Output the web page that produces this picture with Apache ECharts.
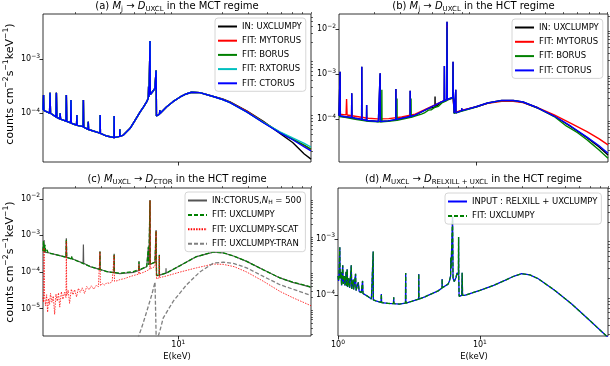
<!DOCTYPE html>
<html>
<head>
<meta charset="utf-8">
<script src="https://cdn.jsdelivr.net/npm/echarts@6/dist/echarts.min.js"></script>
<style>
html, body { margin: 0; padding: 0; background: #fff; }
#main { width: 610px; height: 366px; }
</style>
</head>
<body>
<div id="main"></div>
<script>
var FONT = 'DejaVu Sans';

// ---- panel (a): MCT regime, fits of UXCLUMPY ----
var aLow = [
  [1.2,1.15e-4],[1.205,1.14e-4],[1.21,2.15e-4],[1.215,1.12e-4],
  [1.33,1.0e-4],[1.34,2.38e-4],[1.35,9.9e-5],
  [1.47,8.5e-5],[1.48,2.38e-4],[1.49,8.3e-5],
  [1.56,7.8e-5],[1.57,9.9e-5],[1.58,7.7e-5],
  [1.72,7.1e-5],[1.73,2.15e-4],[1.74,7.0e-5],
  [1.85,6.6e-5],[1.86,1.74e-4],[1.87,6.5e-5],[1.93,6.25e-5],
  [2.03,6.0e-5],[2.04,9.2e-5],[2.05,5.9e-5],
  [2.25,5.6e-5],[2.26,1.74e-4],[2.27,5.5e-5],
  [2.43,5.0e-5],[2.44,6.9e-5],[2.45,4.95e-5],[2.51,4.85e-5],
  [2.93,4.25e-5],[2.94,9.2e-5],[2.95,4.2e-5],[3.26,3.75e-5],
  [3.65,3.5e-5],[3.66,8.8e-5],[3.67,3.5e-5],
  [3.99,3.7e-5],[4.0,5.0e-5],[4.01,3.7e-5],
  [4.23,3.9e-5],[4.7,5.2e-5],[5.1,7.5e-5],[5.5,1.05e-4],[5.8,1.3e-4],[6.1,1.62e-4],
  [6.25,1.9e-4],[6.28,3.1e-4],[6.32,2.0e-4],
  [6.39,2.1e-4],[6.42,2.15e-3],[6.45,2.2e-4],
  [6.7,2.5e-4],[6.93,2.86e-4],[7.04,2.95e-4],[7.06,6.1e-4],[7.08,3.0e-4],[7.1,8.8e-5],
  [7.45,9.5e-5],[7.48,1.14e-4],[7.51,9.8e-5],
  [8.34,1.31e-4],[9.2,1.62e-4],[10.3,1.98e-4],[11.3,2.25e-4],[12.3,2.42e-4],[14,2.38e-4],[17.3,2.02e-4]
];
var aTailIn = [[20,1.82e-4],[22.5,1.6e-4],[29.2,1.1e-4],[37.9,7.0e-5],[49.2,4.2e-5],[60,2.85e-5],[72,1.74e-5],[80,1.4e-5]];
var aTailMy = [[20,1.8e-4],[22.5,1.58e-4],[29.2,1.08e-4],[37.9,6.8e-5],[49.2,4.4e-5],[60,3.3e-5],[72,2.5e-5],[80,2.1e-5]];
var aTailBo = [[20,1.78e-4],[22.5,1.55e-4],[29.2,1.05e-4],[37.9,6.7e-5],[49.2,4.4e-5],[60,3.3e-5],[72,2.55e-5],[80,2.15e-5]];
var aTailRx = [[20,1.78e-4],[22.5,1.55e-4],[29.2,1.05e-4],[37.9,6.7e-5],[49.2,4.5e-5],[60,3.45e-5],[72,2.75e-5],[80,2.35e-5]];
var aTailCt = [[20,1.78e-4],[22.5,1.55e-4],[29.2,1.05e-4],[37.9,6.6e-5],[49.2,4.3e-5],[60,3.2e-5],[72,2.37e-5],[80,2.0e-5]];

// ---- panel (b): HCT regime, fits of UXCLUMPY ----
var bLow = [
  [1.135,1.2e-4],[1.15,1.18e-4],[1.155,1.14e-3],[1.16,1.18e-4],[1.25,1.14e-4],
  [1.385,1.09e-4],[1.39,3.8e-4],[1.395,1.09e-4],[1.47,1.05e-4],
  [1.625,9.9e-5],[1.63,1.47e-3],[1.635,9.9e-5],
  [1.755,9.4e-5],[1.76,2.08e-4],[1.765,9.4e-5],[1.81,9.2e-5],[2.12,8.9e-5],
  [2.175,8.9e-5],[2.18,1.05e-3],[2.185,8.9e-5],[2.48,9.2e-5],
  [2.795,9.8e-5],[2.8,4.7e-4],[2.805,9.8e-5],[3.07,1.05e-4],
  [3.505,1.15e-4],[3.51,4.3e-4],[3.515,1.15e-4],
  [3.79,1.24e-4],[4.69,1.75e-4],[5.8,2.46e-4],
  [6.02,2.55e-4],[6.04,1.53e-3],[6.07,2.6e-4],
  [6.27,2.7e-4],[6.3,0.0148],[6.33,2.75e-4],
  [6.9,3.05e-4],[6.93,1.9e-3],[6.96,3.08e-4],[7.02,3.1e-4],[7.06,1.36e-4],
  [7.22,1.38e-4],[7.24,4.5e-4],[7.26,1.39e-4],
  [7.94,1.55e-4],[7.96,1.75e-4],[7.98,1.55e-4],
  [10,1.9e-4],[12,2.3e-4],[15,2.62e-4],[18,2.62e-4]
];
var bInExtra = [[5.2,1.85e-4],[5.21,3.2e-4],[5.22,1.86e-4]];
var bLowMy = [
  [1.135,1.3e-4],[1.27,1.25e-4],[1.28,2.8e-4],[1.29,1.24e-4],[1.5,1.15e-4],[1.8,1.05e-4],
  [2.1,1.02e-4],[2.5,1.03e-4],[3.07,1.12e-4],[3.8,1.3e-4],[4.7,1.78e-4],[5.8,2.45e-4],
  [6.29,2.7e-4],[6.3,0.012],[6.31,2.7e-4],[6.92,3.0e-4],[6.93,1.5e-3],[6.94,3.0e-4],
  [7.02,3.05e-4],[7.06,1.4e-4],[8,1.6e-4],[10,1.88e-4],[12,2.25e-4],[15,2.5e-4],[18,2.5e-4]
];
var bLowBo = [
  [1.135,1.15e-4],[1.25,1.1e-4],[1.47,1.0e-4],[1.81,9.0e-5],[2.12,8.8e-5],
  [2.235,8.8e-5],[2.24,4.5e-4],[2.245,8.8e-5],[2.48,9.0e-5],
  [2.845,9.5e-5],[2.85,2.9e-4],[2.855,9.5e-5],[3.07,1.0e-4],
  [3.55,1.1e-4],[3.56,2.9e-4],[3.57,1.1e-4],[3.79,1.18e-4],[4.2,1.3e-4],[4.4,1.38e-4],
  [4.5,1.5e-4],[4.69,1.6e-4],[4.9,1.62e-4],[5.2,1.85e-4],[5.5,1.95e-4],[5.8,2.3e-4],
  [6.28,2.6e-4],[6.3,0.011],[6.32,2.65e-4],[6.9,2.95e-4],[6.93,1.5e-3],[6.96,3.0e-4],
  [7.02,3.0e-4],[7.06,1.35e-4],[8,1.52e-4],[10,1.87e-4],[12,2.28e-4],[15,2.6e-4],[18,2.6e-4]
];
var bTailIn = [[21,2.42e-4],[26.5,1.8e-4],[34.5,1.18e-4],[45,6.8e-5],[58,3.9e-5],[70,2.45e-5],[81,1.6e-5]];
var bTailCt = [[21,2.42e-4],[26.5,1.8e-4],[34.5,1.18e-4],[45,7.0e-5],[58,4.0e-5],[70,2.6e-5],[81,1.75e-5]];
var bTailMy = [[21,2.35e-4],[26.5,1.8e-4],[34.5,1.25e-4],[45,8.1e-5],[58,5.3e-5],[70,3.7e-5],[81,2.7e-5]];
var bTailBo = [[21,2.4e-4],[26.5,1.78e-4],[34.5,1.15e-4],[42,7.0e-5],[45,6.2e-5],[50,5.0e-5],[58,3.5e-5],
  [63,2.8e-5],[70,2.1e-5],[75,1.7e-5],[81,1.36e-5]];

// ---- panel (c): CTORUS input fitted with UXCLUMPY ----
var cIn = [
  [1.2,3.7e-4],[1.21,3.6e-4],[1.22,7.5e-4],[1.23,3.5e-4],[1.33,3.3e-4],[1.34,3.7e-4],[1.35,3.2e-4],
  [1.49,2.95e-4],[1.72,2.55e-4],[1.73,8.4e-4],[1.74,2.5e-4],[1.87,2.3e-4],[1.88,2.65e-4],[1.89,2.3e-4],
  [1.93,2.15e-4],[2.25,1.75e-4],[2.26,5.6e-4],[2.27,1.74e-4],[2.51,1.41e-4],
  [2.92,1.18e-4],[2.93,3.7e-4],[2.94,1.17e-4],[3.26,1.03e-4],[3.65,9.6e-5],[3.66,3.15e-4],[3.67,9.6e-5],
  [4.0,9.0e-5],[4.94,9.8e-5],[5.39,1.1e-4],[5.4,2.0e-4],[5.41,1.1e-4],[6.1,1.41e-4],
  [6.24,1.5e-4],[6.26,5e-4],[6.3,1.55e-4],[6.4,1.6e-4],[6.42,9.3e-3],[6.44,1.62e-4],
  [6.94,1.86e-4],[7.04,1.9e-4],[7.06,1.4e-3],[7.09,1.9e-4],[7.11,8e-5],
  [7.42,8.2e-5],[7.43,2.95e-4],[7.44,8.2e-5],[8.24,9.3e-5],[8.25,1.27e-4],[8.26,9.3e-5],
  [10.3,1.5e-4],[13.3,2.64e-4],[17.3,3.5e-4],[20.2,3.35e-4],[24,2.7e-4],[29.2,1.95e-4],
  [37.9,1.15e-4],[49.2,6.9e-5],[60,5.2e-5],[72,4.3e-5],[80,3.8e-5]
];
var cFit = [
  [1.2,3.8e-4],[1.21,7.0e-4],[1.22,3.6e-4],[1.24,5.5e-4],[1.25,3.5e-4],[1.28,4.0e-4],[1.3,3.3e-4],
  [1.34,3.7e-4],[1.36,3.2e-4],[1.49,2.95e-4],[1.72,2.55e-4],[1.73,8.0e-4],[1.74,2.5e-4],
  [1.87,2.3e-4],[1.88,2.65e-4],[1.89,2.3e-4],[1.93,2.15e-4],[2.51,1.41e-4],
  [2.92,1.18e-4],[2.93,3.6e-4],[2.94,1.17e-4],[3.26,1.03e-4],[3.65,9.6e-5],[3.66,3.1e-4],[3.67,9.6e-5],
  [4.0,9.3e-5],[4.94,1.03e-4],[5.39,1.15e-4],[5.4,1.9e-4],[5.41,1.15e-4],[6.1,1.41e-4],
  [6.24,1.5e-4],[6.26,4.8e-4],[6.3,1.55e-4],[6.4,1.6e-4],[6.42,9.0e-3],[6.44,1.62e-4],
  [6.94,1.86e-4],[7.04,1.9e-4],[7.06,1.35e-3],[7.09,1.9e-4],[7.11,8e-5],
  [7.42,8.2e-5],[7.43,2.9e-4],[7.44,8.2e-5],[8.25,9.3e-5],[10.3,1.5e-4],[13.3,2.64e-4],
  [17.3,3.5e-4],[20.2,3.35e-4],[24,2.7e-4],[29.2,1.95e-4],[37.9,1.15e-4],[49.2,6.9e-5],
  [60,5.3e-5],[72,4.4e-5],[80,3.9e-5]
];
var cScat = [
  [1.2,2.0e-5],[1.21,1.5e-5],[1.22,4.5e-4],[1.23,2.2e-5],[1.25,1.2e-5],[1.27,2.4e-5],[1.29,8e-6],
  [1.31,1.9e-5],[1.33,1.3e-5],[1.35,2.6e-5],[1.38,1.5e-5],[1.41,2.2e-5],[1.44,7e-6],[1.47,2.5e-5],
  [1.5,1.6e-5],[1.53,2.7e-5],[1.56,1.1e-5],[1.6,2.9e-5],[1.64,1.8e-5],[1.68,2.8e-5],[1.72,2.0e-5],
  [1.73,7.0e-4],[1.74,2.3e-5],[1.78,3.2e-5],[1.82,1.4e-5],[1.87,3.4e-5],[1.92,2.4e-5],[1.97,3.3e-5],
  [2.03,2.1e-5],[2.09,3.6e-5],[2.15,2.8e-5],[2.22,3.7e-5],[2.3,2.6e-5],[2.38,4.0e-5],[2.47,3.3e-5],
  [2.56,4.2e-5],[2.66,3.4e-5],[2.76,4.3e-5],[2.86,4.0e-5],[2.93,3.5e-4],[2.95,4.3e-5],[3.05,4.8e-5],
  [3.15,4.4e-5],[3.26,5.1e-5],[3.4,4.9e-5],[3.55,5.5e-5],[3.66,2.9e-4],[3.68,5.6e-5],[3.85,5.8e-5],
  [4.0,6.2e-5],[4.3,6.6e-5],[4.6,7.3e-5],[4.94,8.0e-5],[5.39,8.8e-5],[5.4,1.6e-4],[5.41,8.9e-5],
  [5.8,9.8e-5],[6.1,1.08e-4],[6.4,1.2e-4],[6.42,9.0e-3],[6.44,1.22e-4],[6.94,1.41e-4],[7.04,1.45e-4],
  [7.06,1.3e-3],[7.09,1.4e-4],[7.11,6.5e-5],[7.42,7.0e-5],[7.43,2.8e-4],[7.44,7.0e-5],[8.3,7.8e-5],
  [10.3,1.0e-4],[13.3,1.3e-4],[17.3,1.65e-4],[20.2,1.62e-4],[24,1.4e-4],[29.2,1.0e-4],[37.9,5.6e-5],
  [49.2,2.95e-5],[60,2.0e-5],[72,1.45e-5],[80,1.2e-5]
];
var cTran = [
  [5.3,1.5e-6],[5.7,3.5e-6],[6.1,8.4e-6],[6.6,2.4e-5],[6.94,5.3e-5],[7.08,1.2e-6],
  [7.5,2.5e-6],[7.9,5.6e-6],[9.25,1.6e-5],[11.4,4.5e-5],[14,1.0e-4],[17.3,1.75e-4],[20.2,1.85e-4],
  [24,1.7e-4],[29.2,1.3e-4],[37.9,7.6e-5],[49.2,4.5e-5],[72,2.65e-5],[80,2.3e-5]
];

// ---- panel (d): RELXILL + UXCLUMPY input ----
var dSpec = [
  [1.0,2.2e-4],[1.01,1.8e-4],[1.02,3.0e-4],[1.03,7.1e-4],[1.035,2.0e-4],[1.05,2.6e-4],[1.06,1.5e-4],
  [1.08,3.4e-4],[1.09,1.6e-4],[1.11,2.2e-4],[1.12,1.5e-4],[1.14,2.6e-4],[1.15,1.45e-4],[1.16,2.9e-4],
  [1.17,1.4e-4],[1.19,2.0e-4],[1.21,1.35e-4],[1.24,3.4e-4],[1.25,1.3e-4],[1.28,1.9e-4],[1.29,1.27e-4],
  [1.33,2.4e-4],[1.34,1.22e-4],[1.39,1.7e-4],[1.41,1.17e-4],[1.46,1.12e-4],[1.49,1.8e-4],[1.5,1.08e-4],
  [1.6,9.8e-5],[1.72,8.6e-5],[1.765,8.4e-5],[1.77,6.0e-4],[1.775,8.3e-5],[1.85,8e-5],
  [2.01,7.5e-5],[2.02,1.05e-4],[2.03,7.4e-5],[2.25,7.2e-5],[2.46,7.1e-5],[2.47,9.2e-5],[2.48,7.1e-5],
  [2.7,7.0e-5],[2.99,7.3e-5],[3.0,2.5e-4],[3.01,7.3e-5],[3.3,7.8e-5],[3.7,8.6e-5],[3.71,2.4e-4],
  [3.72,8.6e-5],[4.09,9.4e-5],[5.08,1.2e-4],[5.41,1.35e-4],[5.42,1.95e-4],[5.43,1.36e-4],[5.97,1.58e-4],
  [6.1,1.8e-4],[6.22,2.2e-4],[6.24,4.7e-4],[6.27,3.0e-4],[6.35,3.2e-4],[6.42,2.5e-3],[6.47,2.0e-4],
  [6.6,1.75e-4],[6.8,2.1e-4],[6.9,2.5e-4],[6.95,2.4e-4],[7.06,2.3e-4],[7.08,1.08e-3],[7.1,2.0e-4],
  [7.14,9.6e-5],[7.45,1.0e-4],[7.5,2.5e-4],[7.55,1.0e-4],[7.8,1.0e-4],[10,1.22e-4],[12.5,1.5e-4],
  [15,1.84e-4],[17.5,2.2e-4],[19.7,2.42e-4],[22.5,2.3e-4],[25.8,1.97e-4],[33.8,1.22e-4],[44.4,7e-5],
  [58,3.8e-5],[78,1.9e-5],[80,1.8e-5]
];

// axis ranges
var xRange = [[1.2, 80], [1.135, 81], [1.2, 80], [1.0, 80]];
var yRange = [[1.24e-5, 6.8e-3], [1.12e-5, 0.0219], [1.79e-6, 0.0197], [1.9e-5, 8e-3]];
var grids = [
  {left: 43, top: 14, width: 268, height: 148},
  {left: 339, top: 14, width: 269, height: 148},
  {left: 43, top: 188, width: 268, height: 148},
  {left: 338, top: 188, width: 270, height: 148}
];

function join() {
  var out = [];
  for (var i = 0; i < arguments.length; i++) out = out.concat(arguments[i]);
  out.sort(function (p, q) { return p[0] - q[0]; });
  return out;
}

function logTicks(lo, hi, minor) {
  var res = [];
  for (var e = -7; e <= 3; e++) {
    var base = Math.pow(10, e);
    if (!minor) {
      if (base >= lo * 0.9999 && base <= hi * 1.0001) res.push(base);
    } else {
      for (var k = 2; k <= 9; k++) {
        var v = k * base;
        if (v >= lo && v <= hi) res.push(v);
      }
    }
  }
  return res;
}

function powLabel(v) {
  var e = Math.round(Math.log10(v));
  return '10{s|' + (e < 0 ? '\u2212' + (-e) : e) + '}';
}

var supRich = {s: {fontSize: 6, fontFamily: FONT, lineHeight: 7, verticalAlign: 'top', color: '#000'}};

var xAxes = [], yAxes = [];
grids.forEach(function (g, i) {
  var xr = xRange[i], yr = yRange[i];
  xAxes.push({
    gridIndex: i, type: 'log', logBase: 10, min: xr[0], max: xr[1],
    axisLine: {show: false}, splitLine: {show: false},
    axisTick: {customValues: logTicks(xr[0], xr[1], false), length: 3.5, lineStyle: {color: '#000', width: 0.8}},
    axisLabel: {show: i >= 2, customValues: logTicks(xr[0], xr[1], false), formatter: powLabel,
      fontSize: 8, fontFamily: FONT, color: '#000', margin: 3, lineHeight: 12, rich: supRich}
  });
  xAxes.push({
    gridIndex: i, type: 'log', logBase: 10, min: xr[0], max: xr[1],
    axisLine: {show: false}, splitLine: {show: false}, axisLabel: {show: false},
    axisTick: {customValues: logTicks(xr[0], xr[1], true), length: 2, lineStyle: {color: '#000', width: 0.6}}
  });
  yAxes.push({
    gridIndex: i, type: 'log', logBase: 10, min: yr[0], max: yr[1],
    axisLine: {show: false}, splitLine: {show: false},
    axisTick: {customValues: logTicks(yr[0], yr[1], false), length: 3.5, lineStyle: {color: '#000', width: 0.8}},
    axisLabel: {customValues: logTicks(yr[0], yr[1], false), formatter: powLabel,
      fontSize: 8, fontFamily: FONT, color: '#000', margin: 3, lineHeight: 12, rich: supRich}
  });
  yAxes.push({
    gridIndex: i, type: 'log', logBase: 10, min: yr[0], max: yr[1],
    axisLine: {show: false}, splitLine: {show: false}, axisLabel: {show: false},
    axisTick: {customValues: logTicks(yr[0], yr[1], true), length: 2, lineStyle: {color: '#000', width: 0.6}}
  });
});

function line(name, data, g, color, width, dash) {
  return {
    name: name, type: 'line', xAxisIndex: 2 * g, yAxisIndex: 2 * g, data: data,
    symbol: 'none', showSymbol: false, silent: true, animation: false, clip: true,
    lineStyle: {color: color, width: width, type: dash || 'solid'},
    itemStyle: {color: color}
  };
}

var BLACK = '#000000', RED = '#ff0000', GREEN = '#008000', CYAN = '#00bfbf', BLUE = '#0000ff';
var series = [
  line('IN: UXCLUMPY', join(aLow, aTailIn), 0, BLACK, 1.4),
  line('FIT: MYTORUS', join(aLow, aTailMy), 0, RED, 1.4),
  line('FIT: BORUS', join(aLow, aTailBo), 0, GREEN, 1.4),
  line('FIT: RXTORUS', join(aLow, aTailRx), 0, CYAN, 1.4),
  line('FIT: CTORUS', join(aLow, aTailCt), 0, BLUE, 1.4),

  line('IN: UXCLUMPY', join(bLow, bInExtra, bTailIn), 1, BLACK, 1.4),
  line('FIT: MYTORUS', join(bLowMy, bTailMy), 1, RED, 1.4),
  line('FIT: BORUS', join(bLowBo, bTailBo), 1, GREEN, 1.4),
  line('FIT: CTORUS', join(bLow, bTailCt), 1, BLUE, 1.4),

  line('IN:CTORUS,N_H = 500', cIn, 2, '#555555', 1.2),
  line('FIT: UXCLUMPY', cFit, 2, GREEN, 1.3, [4, 2]),
  line('FIT: UXCLUMPY-SCAT', cScat, 2, RED, 0.8, [1.5, 1.2]),
  line('FIT: UXCLUMPY-TRAN', cTran, 2, '#808080', 1.3, [4, 2]),

  line('INPUT : RELXILL + UXCLUMPY', dSpec, 3, BLUE, 1.3),
  line('FIT: UXCLUMPY', dSpec, 3, GREEN, 1.3, [4, 2])
];

function legendBox(names, left, top, gap) {
  return {
    orient: 'vertical', left: left, top: top, data: names,
    itemWidth: 19, itemHeight: 8, itemGap: gap, padding: [3.5, 4, 3, 2],
    backgroundColor: 'rgba(255,255,255,0.8)', borderColor: '#cccccc', borderWidth: 0.8, borderRadius: 3,
    selectedMode: false, z: 10,
    itemStyle: {opacity: 0},
    formatter: function (n) { return n.replace('N_H', '{i|N}{sub|H}'); },
    textStyle: {fontSize: 8.5, fontFamily: FONT, color: '#000', lineHeight: 10,
      rich: {
        i: {fontSize: 8.5, fontFamily: FONT, fontStyle: 'italic', color: '#000', lineHeight: 10},
        sub: {fontSize: 6, fontFamily: FONT, color: '#000', lineHeight: 5, verticalAlign: 'bottom'}
      }}
  };
}

var titleRich = {
  i: {fontSize: 10, fontFamily: FONT, fontStyle: 'italic', fill: '#000', lineHeight: 13},
  sub: {fontSize: 7, fontFamily: FONT, fill: '#000', lineHeight: 6, verticalAlign: 'bottom'}
};
function title(x, y, text) {
  return {type: 'text', x: x, y: y, silent: true, z: 20,
    style: {text: text, fontSize: 10, fontFamily: FONT, fill: '#000', lineHeight: 13,
      align: 'center', verticalAlign: 'middle', rich: titleRich}};
}
function xName(x, y) {
  return {type: 'text', x: x, y: y, silent: true,
    style: {text: 'E(keV)', fontSize: 8.5, fontFamily: FONT, fill: '#000', align: 'center', verticalAlign: 'middle'}};
}
function yName(x, y) {
  return {type: 'text', x: x, y: y, rotation: Math.PI / 2, silent: true,
    style: {text: 'counts cm{s|\u22122}s{s|\u22121}keV{s|\u22121})', fontSize: 11, fontFamily: FONT, fill: '#000',
      lineHeight: 15, align: 'center', verticalAlign: 'middle',
      rich: {s: {fontSize: 7.7, fontFamily: FONT, fill: '#000', lineHeight: 8, verticalAlign: 'top'}}}};
}

var chart = echarts.init(document.getElementById('main'), null, {renderer: 'canvas'});
chart.setOption({
  backgroundColor: '#ffffff',
  animation: false,
  grid: grids.map(function (g) {
    return {left: g.left, top: g.top, width: g.width, height: g.height, show: true,
      borderColor: '#000', borderWidth: 0.8, backgroundColor: 'transparent', containLabel: false};
  }),
  xAxis: xAxes,
  yAxis: yAxes,
  legend: [
    legendBox(['IN: UXCLUMPY', 'FIT: MYTORUS', 'FIT: BORUS', 'FIT: RXTORUS', 'FIT: CTORUS'], 215, 18, 4.2),
    legendBox(['IN: UXCLUMPY', 'FIT: MYTORUS', 'FIT: BORUS', 'FIT: CTORUS'], 512, 19, 4.3),
    legendBox(['IN:CTORUS,N_H = 500', 'FIT: UXCLUMPY', 'FIT: UXCLUMPY-SCAT', 'FIT: UXCLUMPY-TRAN'], 185, 192, 4.4),
    legendBox(['INPUT : RELXILL + UXCLUMPY', 'FIT: UXCLUMPY'], 445, 193, 4.6)
  ],
  graphic: [
    title(177, 6, '(a) {i|M}{sub|j} \u2192 {i|D}{sub|UXCL} in the MCT regime'),
    title(473.5, 6, '(b) {i|M}{sub|j} \u2192 {i|D}{sub|UXCL} in the HCT regime'),
    title(177, 179, '(c) {i|M}{sub|UXCL} \u2192 {i|D}{sub|CTOR} in the HCT regime'),
    title(473.5, 179, '(d) {i|M}{sub|UXCL} \u2192 {i|D}{sub|RELXILL + UXCL} in the HCT regime'),
    xName(177, 357), xName(474, 357),
    yName(10, 84), yName(10, 262)
  ],
  series: series
});
</script>
</body>
</html>
